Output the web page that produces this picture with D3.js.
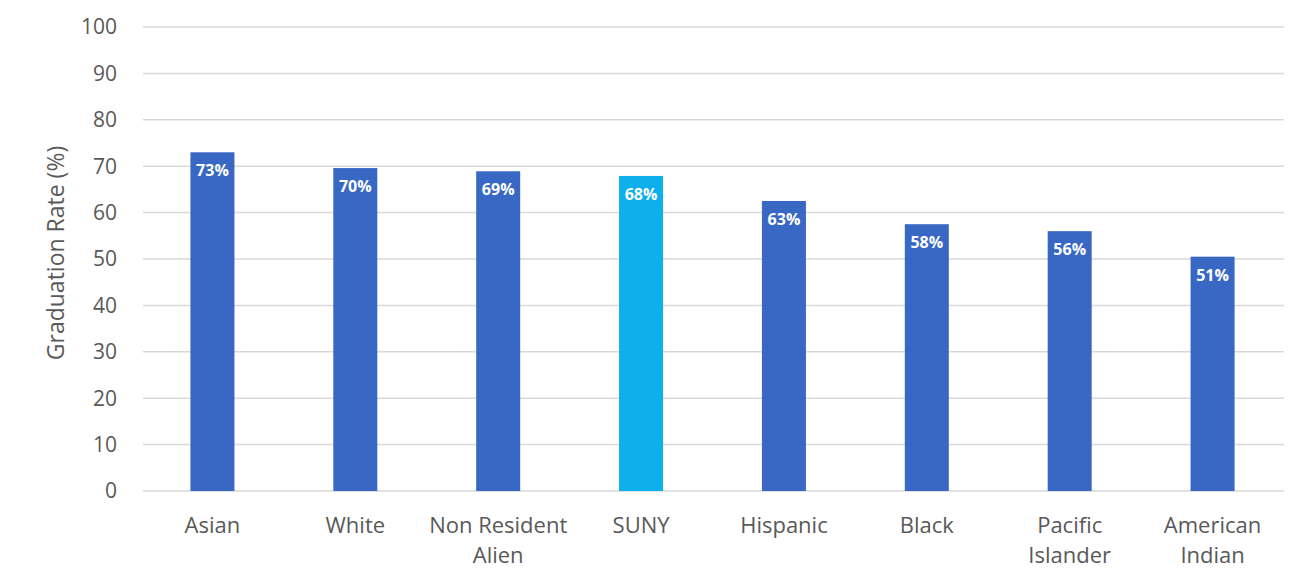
<!DOCTYPE html>
<html>
<head>
<meta charset="utf-8">
<script src="https://cdn.jsdelivr.net/npm/d3@7"></script>
<style>
  body { margin: 0; background: #fff; }
  text { font-family: "Open Sans", sans-serif; }
</style>
</head>
<body>
<svg id="chart" width="1307" height="586"></svg>
<script>
// categories, line breaks marked with \n
const categories = ["Asian", "White", "Non Resident\nAlien", "SUNY", "Hispanic", "Black", "Pacific\nIslander", "American\nIndian"];
const rates = [73, 69.6, 68.9, 67.9, 62.5, 57.5, 56, 50.5];
const yTicks = [0, 10, 20, 30, 40, 50, 60, 70, 80, 90, 100];
const highlight = "SUNY";

const svg = d3.select("#chart");
const plotLeft = 141, plotRight = 1284, plotTop = 27, plotBottom = 491;

const x = d3.scaleBand()
  .domain(categories)
  .range([plotLeft, plotRight])
  .paddingInner(0.692)
  .paddingOuter(0.346);

const y = d3.scaleLinear().domain([0, 100]).range([plotBottom, plotTop]);

// gridlines
svg.append("g")
  .selectAll("line")
  .data(yTicks)
  .enter()
  .append("line")
  .attr("x1", plotLeft + 2)
  .attr("x2", plotRight)
  .attr("y1", d => y(d))
  .attr("y2", d => y(d))
  .attr("stroke", "#d9d9d9")
  .attr("stroke-width", 1.5);

// y tick labels
svg.append("g")
  .selectAll("text")
  .data(yTicks)
  .enter()
  .append("text")
  .attr("x", 117)
  .attr("y", d => y(d))
  .attr("dy", "0.35em")
  .attr("text-anchor", "end")
  .attr("fill", "#595959")
  .style("font-size", "21px")
  .text(d => d);

// y title
svg.append("text")
  .attr("transform", "translate(64,253) rotate(-90)")
  .attr("text-anchor", "middle")
  .attr("fill", "#595959")
  .style("font-size", "23px")
  .text("Graduation Rate (%)");

// bars
const bars = svg.append("g")
  .selectAll("g")
  .data(categories.map((c, i) => ({ name: c, value: rates[i] })))
  .enter()
  .append("g");

bars.append("rect")
  .attr("x", d => x(d.name))
  .attr("width", x.bandwidth())
  .attr("y", d => y(d.value))
  .attr("height", d => y(0) - y(d.value))
  .attr("fill", d => d.name === highlight ? "#0db0ea" : "#3868c4");

bars.append("text")
  .attr("x", d => x(d.name) + x.bandwidth() / 2)
  .attr("y", d => y(d.value) + 24)
  .attr("text-anchor", "middle")
  .attr("fill", "#fff")
  .style("font-size", "16px")
  .style("font-weight", "bold")
  .text(d => Math.round(d.value) + "%");

// category labels
const catLabels = svg.append("g")
  .selectAll("text")
  .data(categories)
  .enter()
  .append("text")
  .attr("x", d => x(d) + x.bandwidth() / 2)
  .attr("y", 533)
  .attr("text-anchor", "middle")
  .attr("fill", "#595959")
  .style("font-size", "22px");

catLabels.selectAll("tspan")
  .data(d => d.split("\n").map((t, i) => ({ t, i, c: d })))
  .enter()
  .append("tspan")
  .attr("x", d => x(d.c) + x.bandwidth() / 2)
  .attr("dy", d => d.i === 0 ? 0 : 30)
  .text(d => d.t);
</script>
</body>
</html>
